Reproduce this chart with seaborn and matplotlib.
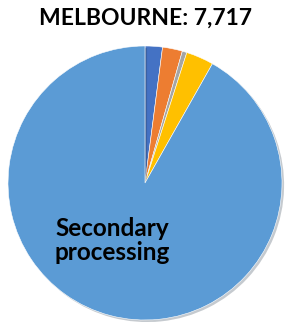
import seaborn as sns
import matplotlib
matplotlib.use("Agg")
import matplotlib.pyplot as plt
import matplotlib.patheffects as pe

sns.set_theme(style="white")
plt.rcParams['font.family'] = ['Lato', 'DejaVu Sans']

# Slices clockwise from 12 o'clock
categories = ["Primary", "Tertiary", "Other", "Retail", "Secondary processing"]
counts = [158, 181, 42, 251, 7085]
colors = ["#4472C4", "#ED7D31", "#A5A5A5", "#FFC000", "#5B9BD5"]
title = "MELBOURNE: 7,717"

fig = plt.figure(figsize=(2.93, 3.22), dpi=100)
ax = fig.add_axes([8 / 293, 2 / 322, 274 / 293, 274 / 322])

wedges, _ = ax.pie(counts, colors=colors, startangle=90, counterclock=False,
                   radius=1.0, wedgeprops=dict(linewidth=0.4, edgecolor="white"))
for w in wedges:
    # soft drop shadow like the excel chart
    w.set_path_effects([pe.SimplePatchShadow(offset=(1.5, -1.5), alpha=0.25), pe.Normal()])

ax.text(-0.24, -0.42, "Secondary\nprocessing", ha="center", va="center",
        fontsize=17.5, fontweight="bold", color="black", linespacing=1.05)
ax.set_xlim(-1.0, 1.0)
ax.set_ylim(-1.0, 1.0)
ax.set_aspect("equal")
ax.axis("off")

fig.text(0.495, 0.945, title, ha="center", va="center",
         fontsize=16.5, fontweight="bold", color="black")

fig.savefig("out.png", dpi=100)
